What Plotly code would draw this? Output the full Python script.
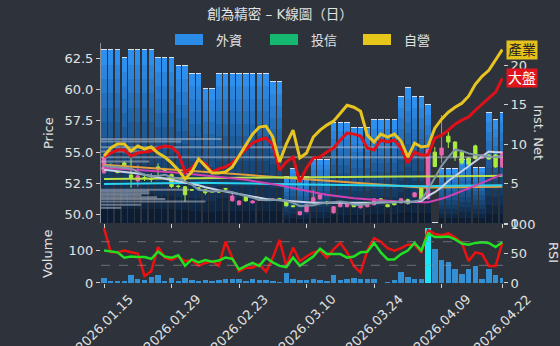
import plotly.graph_objects as go

IDX = list(range(60))
TICK_IDX = [0, 10, 20, 30, 40, 50, 59]
TICK_TEXT = ["2026.01.15", "2026.01.29", "2026.02.23", "2026.03.10", "2026.03.24", "2026.04.09", "2026.04.22"]

OPEN = [53.35, 53.90, 53.45, 54.14, 53.18, 52.70, 52.98, 52.88, 53.82, 53.60,
        53.20, 52.30, 52.23, 52.00, 52.15, 52.00, 51.85, 51.84, 52.10, 51.11,
        50.80, 51.50, 50.95, 51.15, 51.25, 51.20, 51.30, 51.03, 50.72, 50.00,
        50.24, 51.03, 51.27, 51.00, 50.16, 50.64, 50.64, 50.80, 50.56, 50.64,
        50.80, 51.27, 50.80, 51.00, 50.95, 51.20, 51.43, 52.15, 51.30, 55.00,
        54.77, 56.28, 55.81, 55.00, 54.53, 55.50, 54.53, 54.77, 54.77, 53.82]
HIGH = [54.75, 54.10, 53.50, 54.25, 54.50, 53.98, 53.20, 53.30, 54.10, 53.75,
        53.30, 52.40, 52.30, 52.05, 52.20, 52.05, 51.90, 51.88, 52.15, 51.83,
        51.15, 51.55, 51.15, 51.25, 51.30, 51.30, 51.35, 51.10, 50.78, 50.30,
        50.85, 52.00, 51.65, 51.10, 50.70, 50.95, 51.00, 50.85, 50.85, 51.00,
        51.30, 51.32, 50.85, 51.05, 51.30, 51.30, 51.80, 52.20, 55.40, 55.40,
        57.96, 56.60, 55.85, 55.10, 54.60, 55.60, 54.85, 54.85, 54.85, 55.05]
LOW = [53.25, 53.70, 53.30, 53.70, 52.15, 52.23, 52.70, 52.60, 52.90, 53.40,
       52.15, 52.10, 51.03, 51.90, 52.00, 51.60, 51.80, 51.78, 51.95, 51.05,
       50.75, 51.05, 50.90, 51.10, 51.15, 51.15, 51.15, 50.65, 50.60, 49.95,
       50.20, 51.00, 51.20, 50.80, 50.10, 50.60, 50.60, 50.60, 50.50, 50.60,
       50.75, 51.15, 50.60, 50.75, 50.90, 50.80, 51.40, 51.20, 51.20, 53.80,
       54.14, 55.33, 54.30, 54.00, 53.95, 54.40, 54.45, 54.40, 53.75, 53.75]
CLOSE = [54.60, 53.85, 53.38, 53.74, 52.95, 53.10, 52.92, 52.82, 53.66, 53.55,
         52.25, 52.25, 51.60, 51.97, 52.10, 51.76, 51.82, 51.82, 52.05, 51.50,
         51.10, 51.11, 51.10, 51.20, 51.20, 51.25, 51.20, 50.72, 50.65, 50.24,
         50.80, 51.35, 51.59, 50.90, 50.64, 50.88, 50.95, 50.64, 50.80, 50.95,
         51.27, 51.19, 50.64, 50.80, 51.27, 50.90, 51.75, 51.27, 55.20, 53.85,
         55.33, 55.81, 54.60, 54.14, 54.06, 54.50, 54.77, 54.45, 53.82, 55.00]

MA5 = [53.90, 53.85, 53.80, 53.75, 53.70, 53.40, 53.20, 53.10, 53.10, 53.20,
       53.00, 52.90, 52.65, 52.40, 52.00, 51.95, 51.85, 51.90, 51.90, 51.80,
       51.65, 51.50, 51.35, 51.20, 51.15, 51.15, 51.20, 51.10, 50.95, 50.70,
       50.70, 50.75, 50.90, 50.95, 51.05, 51.05, 50.98, 50.80, 50.78, 50.85,
       50.95, 51.05, 51.00, 50.97, 51.05, 50.95, 51.05, 51.20, 52.00, 52.90,
       53.90, 54.60, 55.20, 55.10, 54.90, 54.80, 54.75, 54.70, 54.60, 54.75]
MA10 = [53.60, 53.55, 53.50, 53.45, 53.40, 53.30, 53.20, 53.10, 53.00, 52.90,
        52.80, 52.70, 52.60, 52.50, 52.35, 52.20, 52.05, 51.95, 51.85, 51.75,
        51.60, 51.50, 51.40, 51.30, 51.25, 51.20, 51.15, 51.10, 51.05, 51.00,
        50.95, 50.95, 50.95, 50.95, 50.90, 50.90, 50.90, 50.90, 50.90, 50.92,
        50.95, 50.97, 50.98, 51.00, 51.02, 51.03, 51.05, 51.10, 51.50, 51.80,
        52.20, 52.70, 53.10, 53.50, 53.85, 54.30, 54.70, 55.05, 55.00, 55.00]
MA20 = [53.75, 53.72, 53.68, 53.65, 53.61, 53.58, 53.55, 53.51, 53.48, 53.44,
        53.40, 53.36, 53.31, 53.26, 53.21, 53.16, 53.11, 53.05, 52.99, 52.93,
        52.86, 52.79, 52.71, 52.63, 52.54, 52.45, 52.35, 52.24, 52.12, 52.00,
        51.89, 51.79, 51.69, 51.60, 51.52, 51.45, 51.38, 51.32, 51.27, 51.22,
        51.18, 51.14, 51.11, 51.08, 51.05, 51.03, 51.01, 51.00, 51.00, 51.12,
        51.28, 51.46, 51.66, 51.87, 52.09, 52.32, 52.55, 52.78, 53.01, 53.25]
MA60 = [52.45, 52.46, 52.47, 52.48, 52.49, 52.50, 52.50, 52.51, 52.52, 52.52,
        52.53, 52.53, 52.54, 52.54, 52.55, 52.55, 52.54, 52.54, 52.53, 52.52,
        52.51, 52.50, 52.49, 52.48, 52.47, 52.46, 52.45, 52.44, 52.43, 52.42,
        52.41, 52.40, 52.39, 52.38, 52.37, 52.36, 52.35, 52.34, 52.33, 52.32,
        52.31, 52.30, 52.29, 52.28, 52.27, 52.27, 52.27, 52.28, 52.28, 52.29,
        52.29, 52.30, 52.30, 52.31, 52.31, 52.32, 52.33, 52.33, 52.34, 52.35]
MA120 = [52.85, 52.86, 52.86, 52.87, 52.87, 52.88, 52.88, 52.89, 52.89, 52.90,
         52.90, 52.91, 52.91, 52.92, 52.92, 52.93, 52.93, 52.94, 52.94, 52.95,
         52.95, 52.96, 52.96, 52.97, 52.97, 52.98, 52.98, 52.99, 52.99, 53.00,
         53.00, 53.01, 53.01, 53.01, 53.02, 53.02, 53.02, 53.03, 53.03, 53.03,
         53.04, 53.04, 53.04, 53.05, 53.05, 53.05, 53.06, 53.06, 53.07, 53.07,
         53.08, 53.08, 53.08, 53.09, 53.09, 53.09, 53.10, 53.10, 53.10, 53.11]
MA240 = [54.00, 53.96, 53.92, 53.89, 53.85, 53.81, 53.77, 53.73, 53.70, 53.66,
         53.62, 53.58, 53.54, 53.51, 53.47, 53.43, 53.39, 53.35, 53.32, 53.28,
         53.24, 53.20, 53.16, 53.13, 53.09, 53.05, 53.01, 52.97, 52.94, 52.90,
         52.85, 52.81, 52.77, 52.72, 52.68, 52.64, 52.59, 52.55, 52.51, 52.47,
         52.42, 52.38, 52.34, 52.29, 52.25, 52.22, 52.20, 52.18, 52.17, 52.18,
         52.19, 52.20, 52.20, 52.21, 52.21, 52.22, 52.22, 52.23, 52.23, 52.24]

INDUSTRY = [54.69, 55.33, 55.65, 55.65, 55.09, 55.49, 55.25, 55.41, 54.93, 54.61,
            54.14, 53.58, 52.86, 53.42, 54.45, 53.90, 53.34, 53.34, 53.42, 53.82,
            54.69, 55.49, 56.44, 57.00, 57.08, 56.21, 54.22, 55.65, 56.76, 54.53,
            54.93, 56.21, 56.76, 57.16, 57.48, 58.11, 58.75, 58.59, 58.27, 56.36,
            55.81, 56.44, 56.21, 56.44, 55.89, 54.61, 55.73, 55.41, 55.49, 56.92,
            57.64, 58.19, 58.59, 58.91, 59.47, 60.42, 61.06, 61.54, 62.33, 63.20]
MARKET = [54.61, 54.93, 55.17, 55.17, 54.69, 54.93, 55.01, 55.09, 55.33, 55.49,
          55.41, 54.93, 53.42, 53.74, 54.38, 54.06, 53.42, 53.66, 53.82, 54.14,
          54.69, 55.17, 55.73, 55.97, 56.13, 55.57, 53.58, 54.22, 54.61, 52.63,
          53.74, 54.53, 54.61, 55.01, 55.33, 55.97, 56.52, 56.44, 56.28, 55.33,
          55.17, 55.97, 55.81, 55.97, 55.33, 54.14, 55.01, 54.77, 54.77, 56.13,
          56.36, 56.76, 57.24, 57.56, 57.80, 58.35, 58.83, 59.23, 59.79, 60.90]

FOREIGN = [21.9, 21.9, 21.9, 20.9, 21.9, 21.9, 21.9, 21.9, 20.9, 20.9,
           20.9, 19.9, 19.9, 18.9, 18.9, 17.0, 17.0, 18.9, 18.9, 18.9,
           18.9, 18.9, 18.9, 18.9, 18.9, 17.8, 17.8, 5.8, 6.9, 5.8,
           5.8, 8.0, 8.0, 8.0, 12.7, 12.7, 12.7, 12.0, 12.0, 12.0,
           13.0, 13.0, 13.0, 13.0, 15.9, 17.1, 15.9, 15.9, 14.9, 0.0,
           6.9, 6.9, 6.9, 8.0, 8.0, 7.0, 7.0, 13.9, 13.0, 13.9]
TRUST = [0.0] * 60
DEALER = [0.0] * 60

VOLUME = [17, 5, 5, 5, 24, 12, 10, 19, 24, 4,
          15, 5, 14, 10, 5, 10, 4, 8, 11, 11,
          13, 4, 13, 8, 8, 4, 3, 30, 12, 10,
          10, 12, 8, 4, 24, 8, 12, 17, 11, 11,
          13, 0, 3, 8, 34, 19, 13, 11, 172, 107,
          70, 64, 42, 27, 44, 52, 12, 42, 24, 14]
RSI_FAST = [93, 52, 52, 55, 52, 50, 12, 20, 61, 43,
            39, 45, 37, 39, 29, 34, 37, 29, 70, 43,
            20, 26, 26, 32, 19, 43, 73, 29, 60, 37,
            45, 52, 55, 43, 57, 68, 52, 29, 18, 55,
            76, 70, 59, 55, 59, 65, 65, 52, 90, 83,
            81, 84, 77, 68, 37, 52, 49, 29, 29, 68]
RSI_SLOW = [55, 54, 52, 43, 45, 44, 44, 41, 53, 45,
            43, 47, 29, 40, 35, 39, 36, 38, 43, 41,
            23, 29, 34, 29, 43, 35, 29, 27, 43, 29,
            37, 45, 58, 49, 49, 49, 43, 45, 52, 53,
            68, 52, 40, 40, 49, 55, 68, 55, 84, 78,
            78, 79, 74, 67, 65, 68, 69, 68, 61, 69]

PROFILE_PRICE = [56.05, 55.85, 55.40, 55.05, 54.60, 54.25, 53.70,
                 52.00, 51.85, 51.70, 51.55, 51.40, 51.25, 51.05, 50.80, 50.55]
PROFILE_VOL = [30, 20, 75, 12, 100, 12, 6,
               22, 12, 12, 10, 14, 16, 26, 10, 5]

BG = "#2e333b"
FONT = "DejaVu Sans, Noto Sans CJK TC, sans-serif"
TXT = "#e2e2e2"
FS = 13
XR = [-0.45, 59.1]

fig = go.Figure()

# stacked gradient bars for foreign net
K = 12
c0 = (12, 28, 50)
c1 = (46, 144, 238)
for k in range(K):
    t = k / (K - 1)
    col = "rgb(%d,%d,%d)" % tuple(round(c0[j] + (c1[j] - c0[j]) * t) for j in range(3))
    fig.add_trace(go.Bar(x=IDX, y=[v / K for v in FOREIGN], marker=dict(color=col, line=dict(width=0)),
                         width=0.8, xaxis="x", yaxis="y", showlegend=False, hoverinfo="skip"))
fig.add_trace(go.Bar(x=IDX, y=TRUST, marker_color="#14b86e", width=0.8, xaxis="x", yaxis="y", showlegend=False))
fig.add_trace(go.Bar(x=IDX, y=DEALER, marker_color="#e6c619", width=0.8, xaxis="x", yaxis="y", showlegend=False))

# volume profile lines
px_, py_ = [], []
for p, v in zip(PROFILE_PRICE, PROFILE_VOL):
    px_ += [XR[0], XR[0] + v / 100 * (XR[1] - XR[0]), None]
    py_ += [p, p, None]
fig.add_trace(go.Scatter(x=px_, y=py_, mode="lines", line=dict(color="rgba(190,196,208,0.5)", width=2),
                         xaxis="x", yaxis="y2", showlegend=False, hoverinfo="skip"))

# moving averages
for arr, col in [(MA240, "#e0a040"), (MA120, "#b8e04a"), (MA60, "#2ad4f0"), (MA20, "#d040b0"),
                 (MA10, "#c8d2e6"), (MA5, "#7f98a8")]:
    fig.add_trace(go.Scatter(x=IDX, y=arr, mode="lines", line=dict(color=col, width=2),
                             xaxis="x", yaxis="y2", showlegend=False, hoverinfo="skip"))

fig.add_trace(go.Candlestick(x=IDX, open=OPEN, high=HIGH, low=LOW, close=CLOSE,
                             increasing=dict(line=dict(color="#e864b0", width=1), fillcolor="#e864b0"),
                             decreasing=dict(line=dict(color="#aaee3c", width=1), fillcolor="#aaee3c"),
                             xaxis="x", yaxis="y2", showlegend=False))

fig.add_trace(go.Scatter(x=IDX, y=MARKET, mode="lines", line=dict(color="#e01018", width=3),
                         xaxis="x", yaxis="y2", showlegend=False))
fig.add_trace(go.Scatter(x=IDX, y=INDUSTRY, mode="lines", line=dict(color="#e8c420", width=3),
                         xaxis="x", yaxis="y2", showlegend=False))

# lower panel
vcol = ["#19e6f5" if v == max(VOLUME) else "#3490d2" for v in VOLUME]
fig.add_trace(go.Bar(x=IDX, y=VOLUME, marker=dict(color=vcol, line=dict(width=0)), width=0.8,
                     xaxis="x2", yaxis="y3", showlegend=False))
fig.add_trace(go.Scatter(x=IDX, y=RSI_FAST, mode="lines", line=dict(color="#ee1111", width=2.5),
                         xaxis="x2", yaxis="y4", showlegend=False))
fig.add_trace(go.Scatter(x=IDX, y=RSI_SLOW, mode="lines", line=dict(color="#22e022", width=2.5),
                         xaxis="x2", yaxis="y4", showlegend=False))

tick = dict(ticks="outside", ticklen=4, tickcolor="#d0d0d0", tickfont=dict(size=FS, color=TXT, family=FONT),
            showgrid=False, zeroline=False, automargin=False)

fig.update_layout(
    width=560, height=346, margin=dict(l=101, r=57, t=43, b=63, autoexpand=False),
    paper_bgcolor=BG, plot_bgcolor=BG, barmode="stack", bargap=0,
    font=dict(family=FONT, color=TXT, size=FS),
    showlegend=False,
    title=dict(text="創為精密 – K線圖（日）", x=0.5, xanchor="center", y=0.96, yanchor="middle",
               font=dict(size=13.5, color=TXT, family=FONT)),
    xaxis=dict(domain=[0, 1], anchor="y", range=XR, tickvals=TICK_IDX, showticklabels=False,
               rangeslider=dict(visible=False), **tick),
    yaxis=dict(domain=[0.25, 1], anchor="x", side="right", range=[0, 22.8], tickvals=[0, 5, 10, 15, 20], **tick),
    yaxis2=dict(overlaying="y", anchor="x", side="left", range=[49.34, 63.72], tickvals=[50, 52.5, 55, 57.5, 60, 62.5],
                tickformat=".1f", showline=True, linecolor="#8a8f96", linewidth=1, **tick),
    xaxis2=dict(domain=[0, 1], anchor="y3", range=XR, tickvals=TICK_IDX, showticklabels=False, **tick),
    yaxis3=dict(domain=[0, 0.2458], anchor="x2", side="left", range=[0, 183], tickvals=[0, 100], **tick),
    yaxis4=dict(overlaying="y3", anchor="x2", side="right", range=[0, 100], tickvals=[0, 50, 100], **tick),
)

for lvl in [30, 70]:
    fig.add_shape(type="line", xref="x2", yref="y4", x0=XR[0], x1=XR[1], y0=lvl, y1=lvl,
                  line=dict(color="rgba(150,150,150,0.6)", width=1, dash="dash"))

ann = []
# date labels, rotated and centred under each tick
for xi, txt in zip(TICK_IDX, TICK_TEXT):
    ann.append(dict(x=xi, y=0, xref="x2", yref="paper", text=txt, showarrow=False, textangle=-45,
                    xanchor="center", yanchor="top", yshift=-6, font=dict(size=FS, color=TXT, family=FONT)))
ann.append(dict(x=IDX[-1], y=INDUSTRY[-1], xref="x", yref="y2", text="產業", showarrow=False, xanchor="left",
                xshift=4, bgcolor="#e5c21a", font=dict(size=14, color="#222222", family=FONT), borderpad=1))
ann.append(dict(x=IDX[-1], y=MARKET[-1], xref="x", yref="y2", text="大盤", showarrow=False, xanchor="left",
                xshift=4, bgcolor="#e0141c", font=dict(size=14, color="#ffffff", family=FONT), borderpad=1))
for text, x, y, ang in [("Price", -0.1318, 0.625, -90), ("Volume", -0.1318, 0.121, -90),
                        ("Inst. Net", 1.0896, 0.629, 90), ("RSI", 1.1269, 0.129, 90)]:
    ann.append(dict(x=x, y=y, xref="paper", yref="paper", text=text, showarrow=False, textangle=ang,
                    font=dict(size=FS, color=TXT, family=FONT), xanchor="center", yanchor="middle"))

# legend
for name, col, x0 in [("外資", "#2b8ce8", 175), ("投信", "#14b86e", 270), ("自營", "#e6c619", 363)]:
    fig.add_shape(type="rect", xref="paper", yref="paper",
                  x0=(x0 - 101) / 402, x1=(x0 + 28 - 101) / 402,
                  y0=(283 - 45) / 240, y1=(283 - 34) / 240, fillcolor=col, line=dict(width=0))
    ann.append(dict(x=(x0 + 39 - 101) / 402, y=(283 - 40) / 240, xref="paper", yref="paper", text=name,
                    showarrow=False, xanchor="left", yanchor="middle", font=dict(size=FS, color=TXT, family=FONT)))
fig.update_layout(annotations=ann)

fig.write_html("out.html")
